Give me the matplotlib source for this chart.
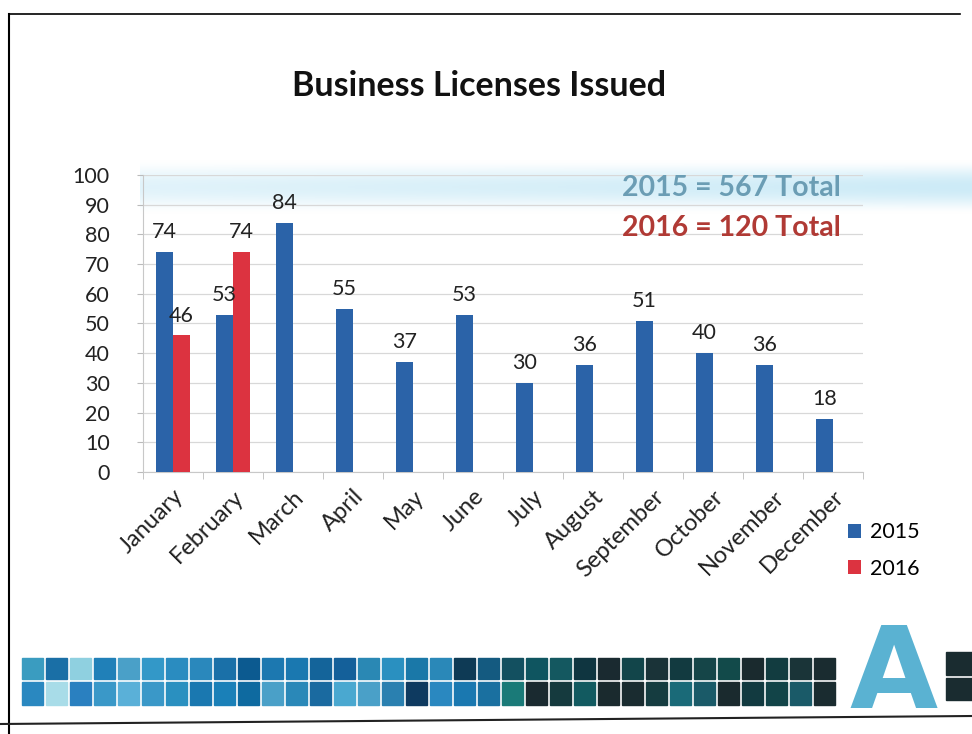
import numpy as np
import matplotlib
matplotlib.use('Agg')
import matplotlib.pyplot as plt
from matplotlib.patches import Rectangle
from matplotlib.lines import Line2D

plt.rcParams['font.family'] = ['Lato', 'DejaVu Sans']

# data
months = ['January', 'February', 'March', 'April', 'May', 'June', 'July',
          'August', 'September', 'October', 'November', 'December']
licenses_2015 = [74, 53, 84, 55, 37, 53, 30, 36, 51, 40, 36, 18]
licenses_2016 = [46, 74]  # only Jan and Feb so far
total_2015 = 567
total_2016 = 120

# bottom mosaic colours (top row, bottom row), left to right
strip_top = ['#3a9cc0', '#1a6fa6', '#8fd0e0', '#2080b8', '#4aa0c8', '#3398c8', '#2a8cc0',
             '#2a88bc', '#1a70a8', '#0c5a90', '#1c78b0', '#1a78b0', '#14649a',
             '#14609a', '#2a88b4', '#2a90c0', '#1a78a8', '#2a88b8', '#0e3a55', '#145a80',
             '#135060', '#0f5560', '#145860', '#0f3540', '#1a2a30', '#12454a',
             '#1a3338', '#123a40', '#154548', '#124a4a', '#1a2a2e', '#123c40', '#1a3438', '#1a2c30']
strip_bot = ['#2a88c0', '#a8dce8', '#2a80c0', '#3a98c8', '#5ab0d8', '#3a98c8', '#2a90c0',
             '#1a78b0', '#1a80b8', '#0e6aa0', '#4aa0c8', '#2a88b8', '#1a6aa0',
             '#4aa8d0', '#4aa0c8', '#2a80b0', '#0e3a60', '#2a88c0', '#1a78b0', '#1a70a0',
             '#1a7a78', '#1a2a30', '#153a3e', '#125a60', '#1a2a2e', '#1a2c30',
             '#153c40', '#1a6a78', '#1a5a68', '#1a2a2e', '#123a40', '#124448', '#1a5a68', '#1a2c30']

BLUE = '#2b63a8'
RED = '#dc3340'

W, H = 972, 734
fig = plt.figure(figsize=(W / 100, H / 100), dpi=100)


def px(x, y):
    # pixel coords (top-left origin) -> figure fraction
    return x / W, 1 - y / H


# slide frame
fig.add_artist(Line2D([9 / W, 9 / W], [px(0, 14)[1], px(0, 734)[1]], color='black', lw=1.5))
fig.add_artist(Line2D([9 / W, 960 / W], [px(0, 14)[1], px(0, 14)[1]], color='black', lw=1.2))
fig.add_artist(Line2D([0, 1], [px(0, 724)[1], px(0, 716)[1]], color='#222222', lw=1.5))

# soft light-blue band behind the totals (scan highlight)
band = fig.add_axes([140 / W, px(0, 214)[1], (W - 140) / W, 54 / H], zorder=0)
vert = np.sin(np.linspace(0, np.pi, 64)) ** 1.5
horiz = np.linspace(0.6, 1.0, 256)
band.imshow(np.outer(vert, horiz), aspect='auto',
            cmap=matplotlib.colors.LinearSegmentedColormap.from_list('b', ['#ffffff', '#cdebf7']),
            vmin=0, vmax=1, extent=(0, 1, 0, 1))
band.axis('off')

# main chart
ax = fig.add_axes([143 / W, px(0, 472)[1], 720 / W, 297 / H], zorder=1)
ax.patch.set_alpha(0)
x = np.arange(len(months))
bw = 0.28
b1 = ax.bar(x - bw / 2, licenses_2015, bw, color=BLUE, label='2015', zorder=3)
b2 = ax.bar(x[:len(licenses_2016)] + bw / 2, licenses_2016, bw, color=RED, label='2016', zorder=3)
for bars in (b1, b2):
    for r in bars:
        ax.annotate(f'{int(r.get_height())}', (r.get_x() + r.get_width() / 2, r.get_height()),
                    xytext=(0, 7), textcoords='offset points', ha='center', va='bottom',
                    fontsize=15.5, color='#222222')

ax.set_xlim(-0.5, 11.5)
ax.set_ylim(0, 100)
ax.set_yticks(range(0, 101, 10))
ax.tick_params(axis='y', labelsize=15.5, length=4, color='#bbbbbb', pad=20, labelcolor='#222222')
ax.set_xticks(x)
ax.set_xticklabels(months, rotation=45, ha='right', rotation_mode='anchor', fontsize=17,
                   color='#222222')
ax.tick_params(axis='x', length=0, pad=10)
ax.set_xticks(np.arange(-0.5, 12, 1), minor=True)
ax.tick_params(axis='x', which='minor', length=5, color='#bbbbbb')
ax.grid(axis='y', color='#d8d8d8', lw=0.9, zorder=0)
for s in ('top', 'right'):
    ax.spines[s].set_visible(False)
for s in ('left', 'bottom'):
    ax.spines[s].set_color('#c8c8c8')

fig.legend(handles=[b1, b2], loc='upper left', bbox_to_anchor=px(829, 503), frameon=False,
           fontsize=15.5, handlelength=0.6, handleheight=0.6, handletextpad=0.4, labelspacing=0.75)

fig.text(*px(479, 86), 'Business Licenses Issued', ha='center', va='center', fontsize=24.5,
         fontweight='bold', color='#111111')
fig.text(*px(841, 188), f'2015 = {total_2015} Total', ha='right', va='center', fontsize=20.5,
         fontweight='bold', color='#6b9db4')
fig.text(*px(841, 228), f'2016 = {total_2016} Total', ha='right', va='center', fontsize=20.5,
         fontweight='bold', color='#b03a35')

# decorative mosaic strip
for i, (ct, cb) in enumerate(zip(strip_top, strip_bot)):
    x0 = 22 + i * 24
    fig.add_artist(Rectangle(px(x0, 679), 21 / W, 21 / H, color=ct))
    fig.add_artist(Rectangle(px(x0, 705), 21 / W, 23 / H, color=cb))
fig.text(*px(893, 676), 'A', ha='center', va='center', fontsize=82, fontweight='bold',
         color='#5ab2d2', family='DejaVu Sans')
fig.add_artist(Rectangle(px(946, 675), 26 / W, 23 / H, color='#1a2c30'))
fig.add_artist(Rectangle(px(946, 700), 26 / W, 22 / H, color='#1a2c30'))

fig.savefig('out.png', dpi=100)
